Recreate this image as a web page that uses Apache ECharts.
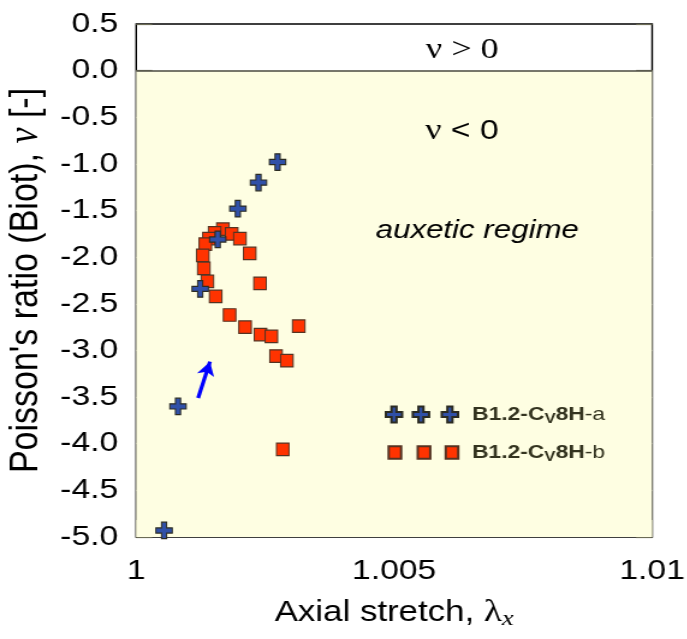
<!DOCTYPE html>
<html>
<head>
<meta charset="utf-8">
<script src="https://cdn.jsdelivr.net/npm/echarts@6/dist/echarts.min.js"></script>
<style>
  html, body { margin: 0; padding: 0; background: #ffffff; overflow: hidden; }
  /* the figure is laid out narrow and widened horizontally, giving the wide lettering */
  #chart { width: 572.5px; height: 639px; transform: scaleX(1.2); transform-origin: 0 0; }
</style>
</head>
<body>
<div id="chart"></div>
<script>
// Axial stretch vs. Poisson's ratio (Biot) for two specimens
const seriesNames = ['B1.2-CV8H-a', 'B1.2-CV8H-b'];

// specimen a
const stretchA = [1.00054, 1.00081, 1.00124, 1.00158, 1.00197, 1.00237, 1.00274];
const ratioA   = [-4.93,   -3.60,   -2.34,   -1.81,   -1.48,   -1.20,   -0.98];

// specimen b
const stretchB = [1.00168, 1.00152, 1.00141, 1.00134, 1.00185, 1.00201, 1.00129, 1.00220,
                  1.00131, 1.00138, 1.00240, 1.00154, 1.00181, 1.00211, 1.00241, 1.00262,
                  1.00315, 1.00271, 1.00292, 1.00284];
const ratioB   = [-1.70, -1.74, -1.80, -1.86, -1.75, -1.80, -1.98, -1.96,
                  -2.12, -2.26, -2.28, -2.42, -2.62, -2.75, -2.83, -2.85,
                  -2.74, -3.06, -3.11, -4.06];

// direction arrow (tail, head)
const arrowTail = [1.00120, -3.51];
const arrowHead = [1.00143, -3.12];

const xTicks = { min: 1, max: 1.01, step: 0.005 };
const yTicks = { min: -5, max: 0.5, step: 0.5 };

const SANS = '"Liberation Sans", Arial, sans-serif';
const SERIF = '"Liberation Serif", "Times New Roman", serif';

const zip = (xs, ys) => xs.map((x, i) => [x, ys[i]]);

// plus-sign marker (normalised 16x16 box)
const plusPath = 'path://M5.5 0 L10.5 0 L10.5 5.5 L16 5.5 L16 10.5 L10.5 10.5 L10.5 16 L5.5 16 L5.5 10.5 L0 10.5 L0 5.5 L5.5 5.5 Z';

// legend icons: three markers in a row
function plusAt(cx) {
  const hw = 6.75, vb = 2.1;
  return `M${cx - vb} 0 L${cx + vb} 0 L${cx + vb} 5.5 L${cx + hw} 5.5 L${cx + hw} 10.5 L${cx + vb} 10.5 ` +
         `L${cx + vb} 16 L${cx - vb} 16 L${cx - vb} 10.5 L${cx - hw} 10.5 L${cx - hw} 5.5 L${cx - vb} 5.5 Z`;
}
function squareAt(cx) {
  const hw = 5.2;
  return `M${cx - hw} 0 L${cx + hw} 0 L${cx + hw} 12.5 L${cx - hw} 12.5 Z`;
}
const legendPlus = 'path://' + plusAt(6.75) + ' ' + plusAt(29.2) + ' ' + plusAt(53.3);
const legendSquares = 'path://' + squareAt(5.2) + ' ' + squareAt(29.4) + ' ' + squareAt(52.7);

const INK = '#33331f';
const legendRich = {
  b:   { fontFamily: SANS, fontSize: 19, fontWeight: 'bold', color: INK, lineHeight: 22 },
  sub: { fontFamily: SANS, fontSize: 14, fontWeight: 'bold', color: INK, lineHeight: 22, padding: [9, 0, 0, 0] },
  r:   { fontFamily: SANS, fontSize: 19, color: INK, lineHeight: 22 }
};
function legendLabel(name) {
  const suffix = name.slice(name.lastIndexOf('-'));
  return '{b|B1.2-C}{sub|V}{b|8H}{r|' + suffix + '}';
}

const chart = echarts.init(document.getElementById('chart'), null, { renderer: 'canvas', width: 572.5, height: 639 });

chart.setOption({
  animation: false,
  backgroundColor: '#ffffff',
  grid: {
    left: 113.3, top: 24, width: 429.2, height: 513,
    containLabel: false, outerBoundsMode: 'none',
    show: true, borderColor: '#000000', borderWidth: 1.4, backgroundColor: 'transparent'
  },
  xAxis: {
    type: 'value', min: xTicks.min, max: xTicks.max, interval: xTicks.step,
    axisLine: { show: false, onZero: false },
    axisTick: { show: true, inside: true, length: 17, lineStyle: { color: '#6b6b55', width: 1.1 } },
    splitLine: { show: false },
    axisLabel: {
      margin: 20, fontFamily: SANS, fontSize: 28, color: '#000',
      formatter: v => String(parseFloat(v.toFixed(3)))
    },
    name: '{n|Axial stretch, }{l|λ}{s|x}',
    nameLocation: 'middle', nameGap: 59,
    nameTextStyle: {
      rich: {
        n: { fontFamily: SANS, fontSize: 29, color: '#000', lineHeight: 34 },
        l: { fontFamily: SERIF, fontSize: 31, color: '#000', lineHeight: 34 },
        s: { fontFamily: SERIF, fontStyle: 'italic', fontSize: 22, color: '#000', lineHeight: 34, padding: [12, 0, 0, 0] }
      }
    }
  },
  yAxis: [{
    type: 'value', min: yTicks.min, max: yTicks.max, interval: yTicks.step,
    axisLine: { show: false, onZero: false },
    axisTick: { show: true, inside: true, length: 13.3, lineStyle: { color: '#6b6b55', width: 1.2 } },
    splitLine: { show: false },
    axisLabel: {
      margin: 15, fontFamily: SANS, fontSize: 28, color: '#000',
      formatter: v => v.toFixed(1)
    },
    name: '{n|Poisson\'s ratio (Biot), }{v|ν}{n| [-]}',
    nameLocation: 'middle', nameGap: 66,
    nameTextStyle: {
      rich: {
        n: { fontFamily: SANS, fontSize: 34, color: '#000', lineHeight: 37 },
        v: { fontFamily: SERIF, fontStyle: 'italic', fontSize: 36, color: '#000', lineHeight: 37 }
      }
    }
  }, {
    type: 'value', position: 'right', min: yTicks.min, max: yTicks.max, interval: yTicks.step,
    axisLine: { show: false, onZero: false },
    axisTick: { show: true, inside: true, length: 13.3, lineStyle: { color: '#6b6b55', width: 1.2 } },
    splitLine: { show: false },
    axisLabel: { show: false }
  }],
  legend: [{
    data: [seriesNames[0]],
    left: 315, top: 398,
    icon: legendPlus, itemWidth: 60, itemHeight: 16,
    formatter: legendLabel,
    textStyle: { rich: legendRich, padding: [0, 0, 0, 6.7] },
    selectedMode: false
  }, {
    data: [seriesNames[1]],
    left: 317.3, top: 436,
    icon: legendSquares, itemWidth: 58, itemHeight: 12.5,
    formatter: legendLabel,
    textStyle: { rich: legendRich, padding: [0, 0, 0, 6.4] },
    selectedMode: false
  }],
  series: [{
    name: seriesNames[0],
    type: 'scatter',
    data: zip(stretchA, ratioA),
    symbol: plusPath, symbolSize: [13.6, 16.5],
    itemStyle: { color: '#3050a8', borderColor: '#2b2b22', borderWidth: 1.1, opacity: 1 },
    z: 4,
    markArea: {
      silent: true,
      itemStyle: { color: '#fefee2' },
      data: [[{ yAxis: yTicks.min }, { yAxis: 0 }]]
    },
    markLine: {
      silent: true, symbol: 'none', animation: false,
      label: { show: false },
      lineStyle: { color: '#4a4a40', width: 1.5, type: 'solid' },
      data: [
        { yAxis: 0 },
        [
          { coord: arrowTail, symbol: 'none', lineStyle: { color: '#0000ff', width: 3.2 } },
          { coord: arrowHead, symbol: 'arrow', symbolSize: [11, 14], lineStyle: { color: '#0000ff', width: 3.2 } }
        ]
      ]
    }
  }, {
    name: seriesNames[1],
    type: 'scatter',
    data: zip(stretchB, ratioB),
    symbol: 'rect', symbolSize: [10.4, 12.5],
    itemStyle: { color: '#ff3300', borderColor: '#553322', borderWidth: 1.1, opacity: 1 },
    z: 3
  }],
  graphic: [
    {
      type: 'text', x: 384.6, y: 50, z: 10,
      style: { text: 'ν > 0', font: '30px ' + SERIF, fill: '#000', align: 'center', verticalAlign: 'middle' }
    },
    {
      type: 'text', x: 384.2, y: 131, z: 10,
      style: {
        text: '{v|ν}{t| < 0}', align: 'center', verticalAlign: 'middle',
        rich: {
          v: { font: '30px ' + SERIF, fill: '#000' },
          t: { font: '28px ' + SANS, fill: '#000' }
        }
      }
    },
    {
      type: 'text', x: 397, y: 231, z: 10,
      style: { text: 'auxetic regime', font: 'italic 26px ' + SANS, fill: '#000', align: 'center', verticalAlign: 'middle' }
    }
  ]
});
</script>
</body>
</html>
